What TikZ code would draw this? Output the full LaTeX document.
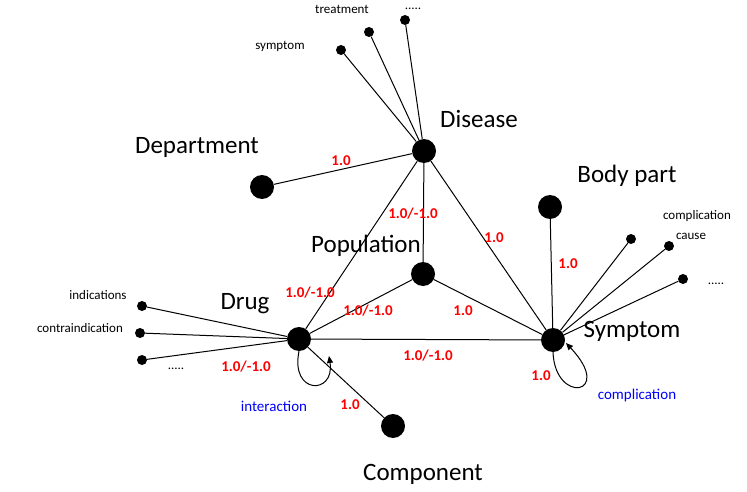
\documentclass[tikz,border=0pt]{standalone}
\usepackage{fontspec}
\setmainfont{Carlito}
\usetikzlibrary{arrows.meta}
\begin{document}
\begin{tikzpicture}[x=1pt,y=-1pt,
  big/.style={circle,fill=black,inner sep=0pt,minimum size=24pt},
  dot/.style={circle,fill=black,inner sep=0pt,minimum size=10pt},
  lab/.style={font=\fontsize{25}{27}\selectfont},
  small/.style={font=\fontsize{13}{14}\selectfont},
  wt/.style={text=red,font=\bfseries\fontsize{15}{16}\selectfont},
  bl/.style={text=blue,font=\fontsize{15}{16}\selectfont},
  ln/.style={line width=1pt}]
\useasboundingbox (0,0) rectangle (747,492);
\node[big] (dis) at (424,151) {};
\node[big] (dep) at (262,187) {};
\node[big] (pop) at (423,274) {};
\node[big] (drug) at (299,339) {};
\node[big] (sym) at (553,340) {};
\node[big] (body) at (550,207) {};
\node[big] (comp) at (393,426) {};
\node[lab] (ldis) at (479,119) {Disease};
\node[lab] (ldep) at (197,147) {Department};
\node[lab] (lpop) at (366,246) {Population};
\node[lab] (ldrug) at (245,304) {Drug};
\node[lab] (lsym) at (632,331) {Symptom};
\node[lab] (lbody) at (627,176) {Body part};
\node[lab] (lcomp) at (423,474) {Component};
\node[dot] (d1) at (341,50) {};
\node[dot] (d2) at (369,32) {};
\node[dot] (d3) at (405,20) {};
\node[dot] (e1) at (142,306) {};
\node[dot] (e2) at (140,333) {};
\node[dot] (e3) at (142,360) {};
\node[dot] (f1) at (631,239) {};
\node[dot] (f2) at (669,246) {};
\node[dot] (f3) at (683,279) {};
\node[small] (t1) at (280,46) {symptom};
\node[small] (t2) at (342,9) {treatment};
\node[small] (t3) at (413,9) {.....};
\node[small] (u1) at (98,295) {indications};
\node[small] (u2) at (80,328) {contraindication};
\node[small] (u3) at (176,369) {.....};
\node[small] (v1) at (697,216) {complication};
\node[small] (v2) at (691,236) {cause};
\node[small] (v3) at (716,284) {.....};
\draw[ln] (dis) -- (d1); \draw[ln] (dis) -- (d2); \draw[ln] (dis) -- (d3);
\draw[ln] (drug) -- (e1); \draw[ln] (drug) -- (e2); \draw[ln] (drug) -- (e3);
\draw[ln] (sym) -- (f1); \draw[ln] (sym) -- (f2); \draw[ln] (sym) -- (f3);
\draw[ln] (dep) -- (dis);
\draw[ln] (dis) -- (pop);
\draw[ln] (dis) -- (sym);
\draw[ln] (dis) -- (drug);
\draw[ln] (drug) -- (pop);
\draw[ln] (pop) -- (sym);
\draw[ln] (drug) -- (sym);
\draw[ln] (drug) -- (comp);
\draw[ln] (sym) -- (body);
\draw[ln,-{Triangle[length=7pt,width=6pt]}] (drug.south) .. controls (290,395) and (335,395) .. (329,356);
\draw[ln,-{Triangle[length=7pt,width=6pt]}] (sym.south) .. controls (555,405) and (615,395) .. (566,343);
\node[wt] at (341,161) {1.0};
\node[wt] at (413,214) {1.0/-1.0};
\node[wt] at (494,238) {1.0};
\node[wt] at (310,293) {1.0/-1.0};
\node[wt] at (368,311) {1.0/-1.0};
\node[wt] at (463,311) {1.0};
\node[wt] at (428,356) {1.0/-1.0};
\node[wt] at (246,367) {1.0/-1.0};
\node[wt] at (568,264) {1.0};
\node[wt] at (541,376) {1.0};
\node[wt] at (350,405) {1.0};
\node[bl] at (274,406) {interaction};
\node[bl] at (637,395) {complication};
\end{tikzpicture}
\end{document}
